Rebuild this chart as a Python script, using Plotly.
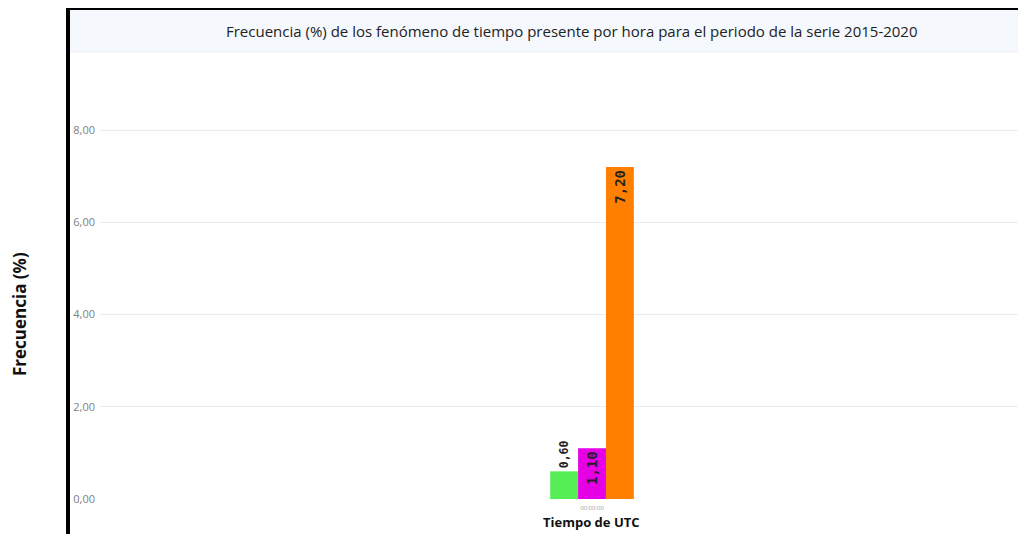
import plotly.graph_objects as go

categories = ["00:00:00"]
series_names = ["Fenómeno A", "Fenómeno B", "Fenómeno C"]
series_values = [[0.60], [1.10], [7.20]]
series_colors = ["#55ee55", "#e600e6", "#ff8000"]
text_positions = ["outside", "inside", "inside"]
y_ticks = [0, 2, 4, 6, 8]

# page has an 8px body margin; screen coords = figure coords + OFF
OFF = 8
W, H = 1026, 534
L = 100 - OFF
T = 60 - OFF
B = H - (499 - OFF)
R = OFF
PW, PH = W - L - R, H - T - B

def px(x):
    return (x - OFF - L) / PW

def py(y):
    return (H - B - (y - OFF)) / PH

fig = go.Figure()
for name, vals, col, pos in zip(series_names, series_values, series_colors, text_positions):
    fig.add_trace(go.Bar(
        x=categories, y=vals, name=name, marker=dict(color=col, line=dict(width=0)),
        text=[f"{v:.2f}".replace(".", ",") for v in vals],
        textposition=pos, textangle=-90, insidetextanchor="end",
        textfont=dict(family="DejaVu Sans Mono", size=14, color="#222222", weight="bold"),
        cliponaxis=False,
    ))

fig.update_layout(
    width=W, height=H,
    margin=dict(l=L, r=R, t=T, b=B),
    paper_bgcolor="white", plot_bgcolor="white",
    barmode="group", bargap=0.915, bargroupgap=0,
    showlegend=False,
    font=dict(family="Open Sans", color="#666666"),
    xaxis=dict(range=[-0.5, 0.441], showgrid=False, zeroline=False, showline=False,
               tickfont=dict(size=6, color="#999999"), ticks="", ticklabelstandoff=4),
    yaxis=dict(range=[0, 9.52], tickvals=y_ticks, tickformat=".2f",
               gridcolor="#ebebeb", zeroline=False, showline=False,
               tickfont=dict(size=11, color="#808080"), ticks="", ticklabelstandoff=4),
    separators=",.",
    shapes=[
        dict(type="rect", xref="paper", yref="paper", x0=px(70), x1=px(1026), y0=py(52), y1=py(10),
             fillcolor="#f5f8fc", line=dict(width=0), layer="below"),
        dict(type="line", xref="paper", yref="paper", x0=px(70), x1=px(1026), y0=py(52), y1=py(52),
             line=dict(color="#eef0f3", width=1)),
        dict(type="rect", xref="paper", yref="paper", x0=px(66), x1=px(70), y0=py(534), y1=py(6),
             fillcolor="black", line=dict(width=0)),
        dict(type="rect", xref="paper", yref="paper", x0=px(66), x1=px(1026), y0=py(10), y1=py(6),
             fillcolor="black", line=dict(width=0)),
    ],
    annotations=[
        dict(text="Frecuencia (%) de los fenómeno de tiempo presente por hora para el periodo de la serie 2015-2020",
             xref="paper", yref="paper", x=px(572), y=py(31), showarrow=False,
             font=dict(size=15, color="#222222"), xanchor="center", yanchor="middle"),
        dict(text="<b>Frecuencia (%)</b>", xref="paper", yref="paper", x=px(19), y=py(314),
             showarrow=False, textangle=-90, font=dict(size=17, color="#111111"),
             xanchor="center", yanchor="middle"),
        dict(text="<b>Tiempo de UTC</b>", xref="paper", yref="paper", x=px(591), y=py(522),
             showarrow=False, font=dict(size=13, color="#111111"),
             xanchor="center", yanchor="middle"),
    ],
)

fig.write_html("out.html")
